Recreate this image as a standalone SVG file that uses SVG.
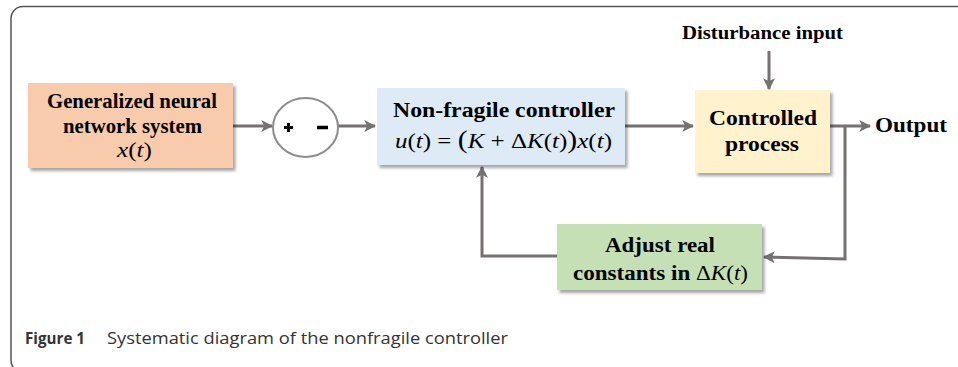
<svg xmlns="http://www.w3.org/2000/svg" width="958" height="367" viewBox="0 0 958 367">
<defs>
<filter id="sh" x="-10%" y="-10%" width="130%" height="140%">
<feDropShadow dx="2.5" dy="3" stdDeviation="1.5" flood-color="#000" flood-opacity="0.35"/>
</filter>
<marker id="ah" viewBox="0 0 10 10" refX="9" refY="5" markerWidth="4" markerHeight="4" orient="auto" markerUnits="strokeWidth">
<path d="M0,0 L10,5 L0,10 L2.5,5 Z" fill="#767171"/>
</marker>
</defs>
<style>
.t{font-family:"Liberation Serif","Times New Roman",serif;font-weight:bold;font-size:20px;fill:#000;text-anchor:middle}
.m{font-family:"Liberation Serif","Times New Roman",serif;font-style:italic;font-weight:normal}
.r{font-family:"Liberation Serif","Times New Roman",serif;font-style:normal;font-weight:normal}
.c{fill:none;stroke:#767171;stroke-width:3}
.cap{font-family:"Open Sans","Noto Sans",sans-serif;font-size:17px;fill:#333}
</style>
<rect x="11" y="6.5" width="975" height="366" rx="12" fill="#fff" stroke="#555" stroke-width="1.5"/>
<g id="connectors">
<line class="c" x1="233" y1="126" x2="272" y2="126" marker-end="url(#ah)"/>
<line class="c" x1="338" y1="126" x2="375" y2="126" marker-end="url(#ah)"/>
<line class="c" x1="625" y1="126" x2="693" y2="126" marker-end="url(#ah)"/>
<line class="c" x1="769" y1="51" x2="769" y2="89" marker-end="url(#ah)"/>
<line class="c" x1="830" y1="126" x2="870" y2="126" marker-end="url(#ah)"/>
<polyline class="c" points="845,126 845,259 764,257" marker-end="url(#ah)"/>
<polyline class="c" points="557,256 482,256 482,167" marker-end="url(#ah)"/>
</g>
<g id="n_system">
<rect x="28" y="83" width="205" height="85" fill="#F8CBAD" filter="url(#sh)"/>
<text class="t" x="132" y="108" textLength="170" lengthAdjust="spacingAndGlyphs">Generalized neural</text>
<text class="t" x="132.5" y="133" textLength="139" lengthAdjust="spacingAndGlyphs">network system</text>
<text class="t" x="134.5" y="157" textLength="35" lengthAdjust="spacingAndGlyphs"><tspan class="m">x</tspan><tspan class="r">(</tspan><tspan class="m">t</tspan><tspan class="r">)</tspan></text>
</g>
<g id="n_sum">
<ellipse cx="305.5" cy="127.5" rx="32.5" ry="29.5" fill="#fff" stroke="#8c8c8c" stroke-width="2"/>
<path d="M284,127.5 h9 M288.5,123 v9" stroke="#000" stroke-width="3"/>
<path d="M317,127.5 h11" stroke="#000" stroke-width="3.5"/>
</g>
<g id="n_controller">
<rect x="377" y="88" width="248" height="77" fill="#DEEBF7" filter="url(#sh)"/>
<text class="t" x="504" y="117" textLength="222" lengthAdjust="spacingAndGlyphs">Non-fragile controller</text>
<text class="t" x="503.5" y="148" style="font-size:21px" textLength="217" lengthAdjust="spacingAndGlyphs"><tspan class="m">u</tspan><tspan class="r">(</tspan><tspan class="m">t</tspan><tspan class="r">) = </tspan><tspan class="r" style="font-size:25px">(</tspan><tspan class="m">K</tspan><tspan class="r"> + Δ</tspan><tspan class="m">K</tspan><tspan class="r">(</tspan><tspan class="m">t</tspan><tspan class="r">)</tspan><tspan class="r" style="font-size:25px">)</tspan><tspan class="m">x</tspan><tspan class="r">(</tspan><tspan class="m">t</tspan><tspan class="r">)</tspan></text>
</g>
<g id="n_process">
<rect x="695" y="90" width="135" height="83" fill="#FFF2CC" filter="url(#sh)"/>
<text class="t" x="763" y="125" style="font-size:21px" textLength="108" lengthAdjust="spacingAndGlyphs">Controlled</text>
<text class="t" x="762" y="151" style="font-size:21px" textLength="74" lengthAdjust="spacingAndGlyphs">process</text>
</g>
<g id="n_disturbance">
<text class="t" x="762.5" y="39" style="font-size:18px" textLength="161" lengthAdjust="spacingAndGlyphs">Disturbance input</text>
</g>
<g id="n_output">
<text class="t" x="911" y="132" style="font-size:21px" textLength="72" lengthAdjust="spacingAndGlyphs">Output</text>
</g>
<g id="n_adjust">
<rect x="557" y="224" width="205" height="66" fill="#C5E0B4" filter="url(#sh)"/>
<text class="t" x="660" y="252" textLength="110" lengthAdjust="spacingAndGlyphs">Adjust real</text>
<text class="t" x="660.5" y="280" textLength="175" lengthAdjust="spacingAndGlyphs">constants in <tspan class="r">Δ</tspan><tspan class="m">K</tspan><tspan class="r">(</tspan><tspan class="m">t</tspan><tspan class="r">)</tspan></text>
</g>
<text class="cap" x="25" y="344" font-weight="bold" fill="#222" style="font-size:16px" textLength="60" lengthAdjust="spacingAndGlyphs">Figure 1</text>
<text class="cap" x="107" y="344" textLength="401" lengthAdjust="spacingAndGlyphs">Systematic diagram of the nonfragile controller</text>
</svg>
